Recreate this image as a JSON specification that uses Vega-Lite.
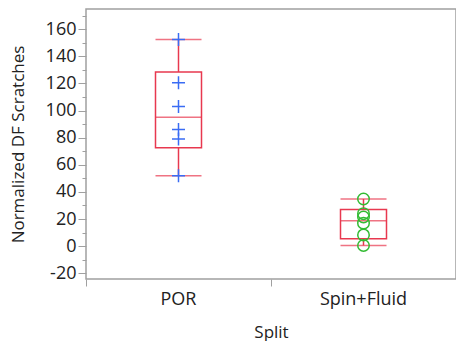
{
  "$schema": "https://vega.github.io/schema/vega-lite/v6.json",
  "width": 370,
  "height": 270,
  "autosize": {"type": "none"},
  "padding": {"left": 86, "top": 9, "right": 0, "bottom": 62},
  "background": "white",
  "config": {
    "font": "Open Sans",
    "view": {"stroke": "#a0a0a0", "strokeWidth": 1.5},
    "axis": {
      "labelFont": "Open Sans",
      "titleFont": "Open Sans",
      "labelFontSize": 18,
      "titleFontSize": 17,
      "titleFontWeight": "normal",
      "labelColor": "#222222",
      "titleColor": "#222222",
      "domainColor": "#a0a0a0",
      "tickColor": "#a0a0a0",
      "labelOverlap": false,
      "labelSeparation": 0,
      "grid": false
    },
    "axisY": {"labelOverlap": false},
    "axisQuantitative": {"labelOverlap": false, "tickCount": 20}
  },
  "datasets": {
    "points": [
      {"Split": "POR", "value": 152.5},
      {"Split": "POR", "value": 120.5},
      {"Split": "POR", "value": 103},
      {"Split": "POR", "value": 86},
      {"Split": "POR", "value": 79},
      {"Split": "POR", "value": 52},
      {"Split": "Spin+Fluid", "value": 34.8},
      {"Split": "Spin+Fluid", "value": 24},
      {"Split": "Spin+Fluid", "value": 21.5},
      {"Split": "Spin+Fluid", "value": 17},
      {"Split": "Spin+Fluid", "value": 8.3},
      {"Split": "Spin+Fluid", "value": 0.5}
    ],
    "stats": [
      {"Split": "POR", "lo": 52, "q1": 72.5, "med": 95, "q3": 128.5, "hi": 152.5},
      {"Split": "Spin+Fluid", "lo": 0.5, "q1": 5.5, "med": 18.8, "q3": 27, "hi": 34.8}
    ]
  },
  "encoding": {
    "x": {
      "field": "Split",
      "type": "nominal",
      "scale": {"domain": ["POR", "Spin+Fluid"], "paddingInner": 0, "paddingOuter": 0},
      "axis": {
        "title": "Split",
        "labelAngle": 0,
        "bandPosition": 0,
        "tickSize": 7,
        "labelPadding": 4,
        "titlePadding": 16,
        "domain": false
      }
    }
  },
  "resolve": {"axis": {"y": "independent"}},
  "layer": [
    {
      "layer": [
        {
          "data": {"name": "stats"},
          "mark": {"type": "rule", "color": "#e8384f", "strokeWidth": 1.5},
          "encoding": {
            "y": {
              "field": "q3",
              "type": "quantitative",
              "scale": {"domain": [-24.2, 174.9], "nice": false, "zero": false},
              "axis": {
                "orient": "left",
                "title": "Normalized DF Scratches",
                "values": [-20, 0, 20, 40, 60, 80, 100, 120, 140, 160],
                "labelExpr": "datum.value < 0 ? '-' + abs(datum.value) : datum.label",
                "labelOverlap": false,
                "labelFlush": false,
                "labelSeparation": 0,
                "tickSize": 8,
                "labelPadding": 2,
                "titlePadding": 18,
                "domain": false
              }
            },
            "y2": {"field": "hi"}
          }
        },
        {
          "data": {"name": "stats"},
          "mark": {"type": "rule", "color": "#e8384f", "strokeWidth": 1.5},
          "encoding": {
            "y": {"field": "lo", "type": "quantitative"},
            "y2": {"field": "q1"}
          }
        },
        {
          "data": {"name": "stats"},
          "mark": {"type": "bar", "width": 46, "fill": "white", "fillOpacity": 0, "stroke": "#e8384f", "strokeWidth": 1.5},
          "encoding": {
            "y": {"field": "q1", "type": "quantitative"},
            "y2": {"field": "q3"}
          }
        },
        {
          "data": {"name": "stats"},
          "mark": {"type": "tick", "size": 46, "thickness": 1.5, "color": "#e8384f"},
          "encoding": {"y": {"field": "med", "type": "quantitative"}}
        },
        {
          "data": {"name": "stats"},
          "mark": {"type": "tick", "size": 46, "thickness": 1.5, "color": "#e8384f"},
          "encoding": {"y": {"field": "lo", "type": "quantitative"}}
        },
        {
          "data": {"name": "stats"},
          "mark": {"type": "tick", "size": 46, "thickness": 1.5, "color": "#e8384f"},
          "encoding": {"y": {"field": "hi", "type": "quantitative"}}
        }
      ]
    },
    {
      "data": {"name": "points"},
      "mark": {"type": "point", "filled": false, "strokeWidth": 1.5, "opacity": 1},
      "encoding": {
        "y": {
          "field": "value",
          "type": "quantitative",
          "axis": {
            "orient": "left",
            "title": null,
            "values": [-10, 10, 30, 50, 70, 90, 110, 130, 150, 170],
            "labels": false,
            "tickSize": 4,
            "domain": false
          }
        },
        "shape": {
          "field": "Split",
          "type": "nominal",
          "scale": {"domain": ["POR", "Spin+Fluid"], "range": ["M-1,0H1M0,-1V1", "circle"]},
          "legend": null
        },
        "color": {
          "field": "Split",
          "type": "nominal",
          "scale": {"domain": ["POR", "Spin+Fluid"], "range": ["#3a6cf4", "#33bb33"]},
          "legend": null
        },
        "size": {
          "field": "Split",
          "type": "nominal",
          "scale": {"domain": ["POR", "Spin+Fluid"], "range": [169, 132]},
          "legend": null
        }
      }
    }
  ]
}
